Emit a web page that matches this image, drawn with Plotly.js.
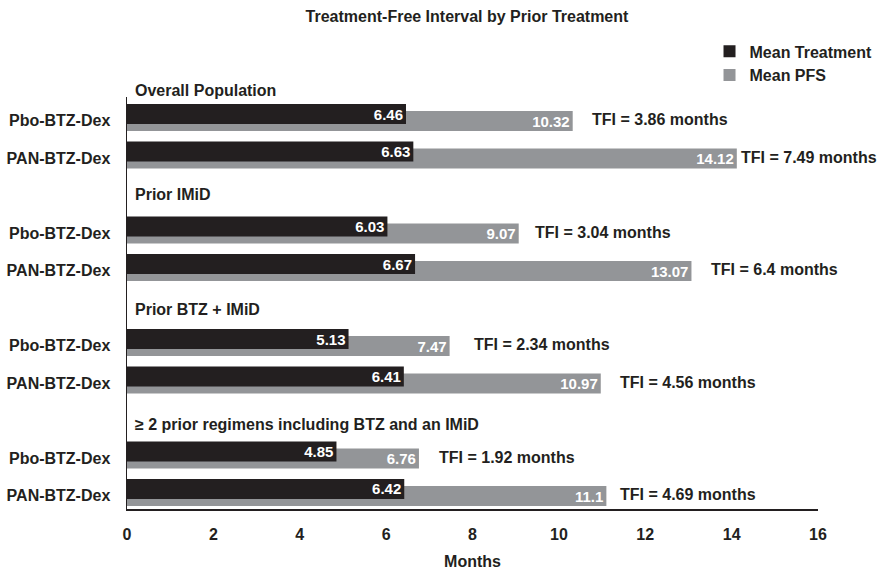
<!DOCTYPE html>
<html>
<head>
<meta charset="utf-8">
<script src="https://cdn.plot.ly/plotly-3.0.1.min.js"></script>
<style>html,body{margin:0;padding:0;background:#fff;}</style>
</head>
<body>
<div id="chart" style="width:881px;height:570px;"></div>
<script>
// ---- data ----
const groups = ["Overall Population", "Prior IMiD", "Prior BTZ + IMiD", "\u2265 2 prior regimens including BTZ and an IMiD"];
const arms = ["Pbo-BTZ-Dex", "PAN-BTZ-Dex"];
const meanTreatment = [6.46, 6.63, 6.03, 6.67, 5.13, 6.41, 4.85, 6.42];
const meanPFS = [10.32, 14.12, 9.07, 13.07, 7.47, 10.97, 6.76, 11.1];
const tfi = [3.86, 7.49, 3.04, 6.4, 2.34, 4.56, 1.92, 4.69];
const xTicks = [0, 2, 4, 6, 8, 10, 12, 14, 16];

// ---- layout helpers ----
const FONT = "Liberation Sans, Arial, Helvetica, sans-serif";
const TXT = "#231f20";
const BLACK = "#231f20";
const GREY = "#939598";
const Y_RANGE = [11.44, 0.453];

// each group occupies 3 slots: header + 2 arms
const barY = [], tickLabels = [], headerY = [];
groups.forEach((g, gi) => {
  headerY.push(gi * 3);
  arms.forEach((a, ai) => { barY.push(gi * 3 + 1 + ai); tickLabels.push(a); });
});
const toPaperY = v => (Y_RANGE[0] - v) / (Y_RANGE[0] - Y_RANGE[1]);

const tfiGap = [19, 4, 16, 20, 24, 19, 20, 14];
const headerShift = [-10, -2, -4, -7];

const traces = [
  {
    type: "bar", orientation: "h", name: "Mean PFS",
    x: meanPFS, y: barY, base: 0,
    width: 0.533, offset: -0.173,
    marker: {color: GREY, line: {width: 0}},
    text: meanPFS.map(v => String(v)),
    textposition: "inside", insidetextanchor: "end", constraintext: "none",
    textfont: {family: FONT, size: 15, color: "#ffffff", weight: "bold"},
    hoverinfo: "skip"
  },
  {
    type: "bar", orientation: "h", name: "Mean Treatment",
    x: meanTreatment, y: barY, base: 0,
    width: 0.533, offset: -0.36,
    marker: {color: BLACK, line: {width: 0}},
    text: meanTreatment.map(v => String(v)),
    textposition: "inside", insidetextanchor: "end", constraintext: "none",
    textfont: {family: FONT, size: 15, color: "#ffffff", weight: "bold"},
    hoverinfo: "skip"
  }
];

const annotations = [];
headerY.forEach((y, i) => {
  annotations.push({
    x: 0, y: toPaperY(y), xref: "x", yref: "paper", xanchor: "left", yanchor: "middle",
    xshift: 6, yshift: headerShift[i], showarrow: false, text: groups[i],
    font: {family: FONT, size: 16, color: TXT, weight: "bold"}
  });
});
barY.forEach((y, i) => {
  annotations.push({
    x: meanPFS[i], y: y, xref: "x", yref: "y", xanchor: "left", yanchor: "middle",
    xshift: tfiGap[i] - 2, yshift: -2, showarrow: false,
    text: "TFI = " + tfi[i] + " months",
    font: {family: FONT, size: 16, color: TXT, weight: "bold"}
  });
});

const layout = {
  width: 881, height: 570,
  margin: {l: 127, r: 63, t: 97, b: 61, autoexpand: false},
  paper_bgcolor: "#ffffff", plot_bgcolor: "#ffffff",
  barmode: "overlay",
  showlegend: true,
  font: {family: FONT, color: TXT},
  title: {
    text: "Treatment-Free Interval by Prior Treatment",
    font: {family: FONT, size: 16, color: TXT, weight: "bold"},
    xref: "paper", x: 0.492, xanchor: "center",
    yref: "container", y: 0.972, yanchor: "middle"
  },
  legend: {
    x: 0.843, xanchor: "left", xref: "paper",
    y: 1.152, yanchor: "top",
    traceorder: "reversed",
    font: {family: FONT, size: 16, color: TXT, weight: "bold"},
    bgcolor: "rgba(0,0,0,0)", itemwidth: 30, tracegroupgap: 0
  },
  xaxis: {
    range: [0, 16], tickvals: xTicks, ticktext: xTicks.map(String),
    showgrid: false, zeroline: false,
    showline: true, linecolor: "#231f20", linewidth: 1.5,
    ticks: "", ticklabelstandoff: 10,
    tickfont: {family: FONT, size: 16, color: TXT, weight: "bold"},
    title: {text: "Months", standoff: 15, font: {family: FONT, size: 16, color: TXT, weight: "bold"}},
    fixedrange: true
  },
  yaxis: {
    range: Y_RANGE,
    tickvals: barY.map(v => v + 0.08), ticktext: tickLabels,
    showgrid: false, zeroline: false,
    showline: true, linecolor: "#231f20", linewidth: 1.5,
    ticks: "", ticklabelstandoff: 12,
    tickfont: {family: FONT, size: 16, color: TXT, weight: "bold"},
    fixedrange: true
  },
  annotations: annotations
};

Plotly.newPlot("chart", traces, layout, {displayModeBar: false, staticPlot: true});
</script>
</body>
</html>
